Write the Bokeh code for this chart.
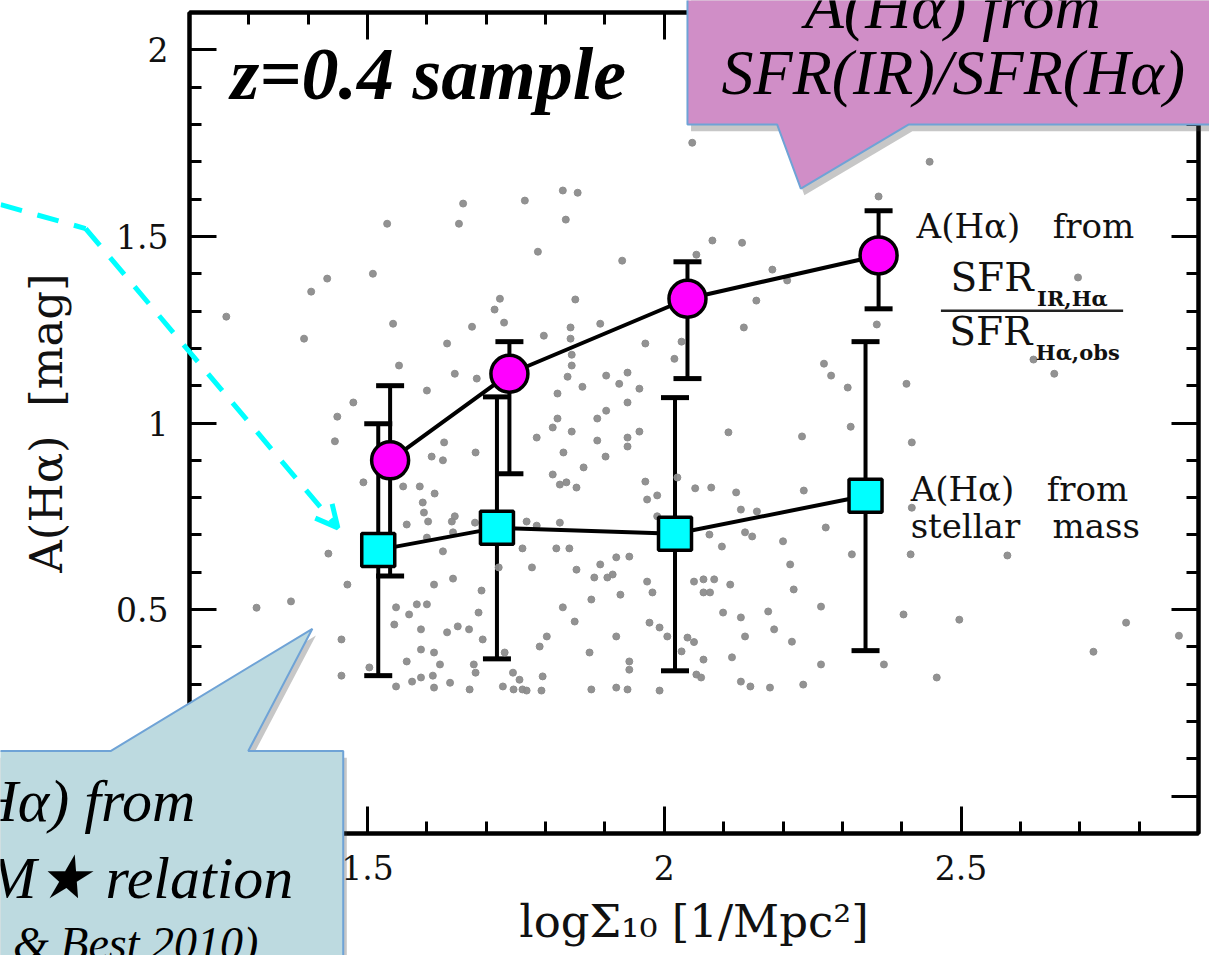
from bokeh.plotting import figure
from bokeh.models import (ColumnDataSource, Whisker, TeeHead, FixedTicker, LinearAxis,
                          Label, Arrow, OpenHead)
from bokeh.core.properties import value
from bokeh.embed import file_html
from bokeh.resources import INLINE

# ---------------- data ----------------
# A(Halpha) from SFR(IR)/SFR(Halpha)  (magenta circles)
dens_ir = [1.538, 1.739, 2.039, 2.361]
aha_ir = [0.900, 1.132, 1.333, 1.449]
aha_ir_lo = [0.590, 0.864, 1.119, 1.306]
aha_ir_hi = [1.100, 1.218, 1.432, 1.569]

# A(Halpha) from stellar mass (cyan squares)
dens_ms = [1.518, 1.718, 2.018, 2.339]
aha_ms = [0.660, 0.719, 0.703, 0.805]
aha_ms_lo = [0.323, 0.368, 0.336, 0.390]
aha_ms_hi = [0.998, 1.070, 1.068, 1.218]

# individual galaxies (grey dots)
bg_x = [1.262, 1.313, 1.371, 1.393, 1.405, 1.432, 1.434, 1.445, 1.449, 1.456,
        1.456, 1.466, 1.476, 1.493, 1.503, 1.509, 1.533, 1.543, 1.545, 1.548,
        1.548, 1.553, 1.560, 1.566, 1.566, 1.570, 1.575, 1.583, 1.588, 1.590,
        1.590, 1.590, 1.593, 1.595, 1.600, 1.600, 1.600, 1.602, 1.608, 1.610,
        1.612, 1.612, 1.612, 1.613, 1.622, 1.627, 1.627, 1.629, 1.634, 1.634,
        1.639, 1.642, 1.644, 1.644, 1.647, 1.647, 1.652, 1.654, 1.661, 1.671,
        1.672, 1.676, 1.679, 1.681, 1.682, 1.682, 1.684, 1.687, 1.692, 1.694,
        1.714, 1.721, 1.723, 1.728, 1.730, 1.731, 1.745, 1.746, 1.756, 1.761,
        1.761, 1.765, 1.768, 1.768, 1.777, 1.785, 1.785, 1.787, 1.790, 1.793,
        1.795, 1.797, 1.802, 1.812, 1.812, 1.818, 1.820, 1.820, 1.824, 1.824,
        1.829, 1.829, 1.830, 1.834, 1.835, 1.837, 1.840, 1.842, 1.842, 1.844,
        1.844, 1.844, 1.849, 1.850, 1.852, 1.852, 1.854, 1.862, 1.864, 1.874,
        1.877, 1.877, 1.882, 1.887, 1.887, 1.892, 1.892, 1.901, 1.902, 1.902,
        1.904, 1.913, 1.919, 1.919, 1.919, 1.924, 1.926, 1.929, 1.938, 1.938,
        1.938, 1.938, 1.938, 1.941, 1.941, 1.941, 1.958, 1.958, 1.968, 1.968,
        1.971, 1.971, 1.975, 1.980, 1.988, 1.988, 1.992, 1.992, 2.005, 2.017,
        2.022, 2.029, 2.029, 2.039, 2.047, 2.050, 2.050, 2.052, 2.054, 2.054,
        2.062, 2.066, 2.066, 2.066, 2.076, 2.077, 2.079, 2.081, 2.084, 2.097,
        2.099, 2.108, 2.111, 2.114, 2.121, 2.129, 2.129, 2.129, 2.131, 2.134,
        2.136, 2.136, 2.145, 2.148, 2.155, 2.156, 2.175, 2.178, 2.182, 2.185,
        2.200, 2.207, 2.212, 2.215, 2.218, 2.232, 2.234, 2.235, 2.264, 2.264,
        2.269, 2.272, 2.281, 2.309, 2.314, 2.316, 2.358, 2.361, 2.370, 2.403,
        2.408, 2.415, 2.417, 2.417, 2.447, 2.459, 2.497, 2.578, 2.622, 2.657,
        2.697, 2.723, 2.778, 2.867]
bg_y = [1.285, 0.505, 0.522, 1.226, 1.352, 1.387, 0.650, 0.951, 1.017, 0.420,
        0.323, 0.567, 1.055, 0.841, 0.345, 1.400, 1.534, 1.266, 0.460, 0.506,
        0.294, 1.154, 0.830, 0.728, 0.361, 0.487, 0.307, 0.514, 0.830, 0.447,
        0.393, 0.318, 0.787, 0.760, 1.087, 0.693, 0.514, 0.736, 0.910, 0.323,
        0.567, 0.385, 0.291, 0.811, 0.353, 0.900, 0.656, 0.948, 1.213, 0.439,
        0.304, 0.736, 0.707, 0.583, 1.132, 0.750, 0.455, 1.534, 1.588, 0.447,
        0.286, 1.258, 0.353, 0.733, 0.921, 0.331, 1.119, 0.492, 0.551, 0.420,
        1.304, 0.613, 1.333, 0.294, 1.269, 0.385, 0.331, 0.286, 0.312, 0.664,
        0.286, 1.596, 0.736, 0.283, 0.613, 0.961, 0.725, 1.459, 0.401, 0.283,
        0.321, 1.234, 0.428, 0.988, 0.862, 0.664, 1.079, 1.012, 0.835, 0.733,
        1.623, 0.506, 0.921, 1.545, 0.841, 1.124, 0.664, 1.256, 1.226, 1.183,
        1.154, 0.977, 0.468, 1.331, 0.827, 0.607, 1.617, 1.097, 0.881, 0.385,
        0.527, 0.286, 0.586, 1.012, 0.953, 1.266, 0.621, 0.910, 1.127, 1.033,
        0.586, 0.594, 0.640, 0.428, 0.291, 1.105, 0.540, 1.435, 1.135, 1.055,
        0.961, 0.937, 0.286, 0.642, 0.361, 0.339, 1.092, 0.977, 1.213, 0.843,
        0.795, 0.575, 0.465, 0.546, 0.806, 0.750, 0.452, 0.283, 0.428, 1.172,
        0.854, 1.218, 0.388, 0.425, 1.751, 0.575, 0.413, 0.825, 1.451, 0.326,
        0.318, 0.581, 0.546, 0.366, 0.701, 0.546, 0.827, 1.489, 0.581, 0.669,
        0.492, 0.975, 0.567, 0.372, 0.814, 0.768, 0.479, 0.307, 1.483, 1.256,
        0.707, 0.428, 0.294, 0.696, 1.328, 0.763, 0.495, 0.291, 1.411, 0.447,
        0.683, 1.382, 0.621, 0.414, 0.554, 0.964, 0.299, 0.819, 0.508, 0.353,
        1.159, 0.720, 1.127, 1.095, 0.990, 0.648, 1.264, 1.607, 0.353, 0.487,
        1.105, 0.648, 0.948, 0.773, 1.700, 0.318, 0.473, 0.645, 1.170, 1.132,
        1.390, 0.387, 0.465, 0.430]

x_major = [1.5, 2.0, 2.5]
x_labels = ["1.5", "2", "2.5"]
y_major = [0.0, 0.5, 1.0, 1.5, 2.0]
y_labels = ["0", "0.5", "1", "1.5", "2"]

# ---------------- layout constants ----------------
W, H = 1209, 955
BL, BR, BT, BB = 189, 11, 12, 122
XR = (1.2, 2.9)
YR = (-0.1, 2.1)

# ---------------- main figure ----------------
p = figure(width=W, height=H, x_range=XR, y_range=YR,
           output_backend="svg", toolbar_location=None,
           min_border_left=BL, min_border_right=BR, min_border_top=BT, min_border_bottom=BB)
p.grid.visible = False
p.outline_line_color = "black"
p.outline_line_width = 4
p.background_fill_color = "white"
p.border_fill_color = "white"

x_minor = [round(1.2 + 0.1 * i, 1) for i in range(18)]
y_minor = [round(-0.1 + 0.1 * i, 1) for i in range(23)]
xt = FixedTicker(ticks=x_major, minor_ticks=x_minor)
yt = FixedTicker(ticks=y_major, minor_ticks=y_minor)

bottom_ax = p.below[0]
left_ax = p.left[0]
bottom_ax.ticker = xt
left_ax.ticker = yt
top_ax = LinearAxis(ticker=xt)
right_ax = LinearAxis(ticker=yt)
p.add_layout(top_ax, "above")
p.add_layout(right_ax, "right")

for ax in [bottom_ax, left_ax, top_ax, right_ax]:
    ax.axis_line_width = 4
    ax.axis_line_color = "black"
    ax.major_tick_line_width = 3
    ax.minor_tick_line_width = 3
    ax.major_tick_in = 27
    ax.major_tick_out = 0
    ax.minor_tick_in = 12
    ax.minor_tick_out = 0
    ax.major_label_text_font = "DejaVu Serif"
    ax.major_label_text_font_size = "33px"
    ax.major_label_text_color = "#111111"
    ax.major_label_standoff = 21
    ax.axis_label_text_font = "DejaVu Serif"
    ax.axis_label_text_font_style = "normal"
    ax.axis_label_text_font_size = "45px"
    ax.axis_label_text_color = "#111111"

bottom_ax.major_label_overrides = dict(zip(x_major, x_labels))
left_ax.major_label_overrides = dict(zip(y_major, y_labels))
top_ax.major_label_overrides = {t: "" for t in x_major}
right_ax.major_label_overrides = {t: "" for t in y_major}
top_ax.major_label_standoff = 0
right_ax.major_label_standoff = 0

bottom_ax.axis_label = "logΣ\u2081\u2080\u00a0[1/Mpc\u00b2]"
bottom_ax.axis_label_standoff = 12
left_ax.axis_label = "A(Hα)\u00a0\u00a0[mag]"
left_ax.axis_label_standoff = 40

# grey galaxies
p.scatter(bg_x, bg_y, size=7, color="#8c8c8c", alpha=0.95)

# error bars
src_ir = ColumnDataSource(dict(x=dens_ir, y=aha_ir, lo=aha_ir_lo, hi=aha_ir_hi))
src_ms = ColumnDataSource(dict(x=dens_ms, y=aha_ms, lo=aha_ms_lo, hi=aha_ms_hi))
for src in (src_ms, src_ir):
    w = Whisker(base="x", lower="lo", upper="hi", source=src, line_width=4, line_color="black",
                upper_head=TeeHead(size=28, line_width=5, line_color="black"),
                lower_head=TeeHead(size=28, line_width=5, line_color="black"))
    p.add_layout(w)

p.line("x", "y", source=src_ir, line_width=4, line_color="black")
p.line("x", "y", source=src_ms, line_width=4, line_color="black")
p.scatter("x", "y", source=src_ir, marker="circle", size=37, fill_color="#ff00ff",
          line_color="black", line_width=3.5)
p.scatter("x", "y", source=src_ms, marker="square", size=33, fill_color="#00ffff",
          line_color="black", line_width=3.5)

# in-plot annotations (legend-like texts)
serif = "DejaVu Serif"
p.add_layout(Label(x=2.425, y=1.529, text="A(Hα)\u00a0\u00a0\u00a0from", text_font=serif,
                   text_font_size="34px", text_baseline="middle", text_color="#111111"))
p.add_layout(Label(x=2.482, y=1.390, text="SFR", text_font=serif,
                   text_font_size="39px", text_baseline="middle", text_color="#111111"))
p.add_layout(Label(x=2.628, y=1.334, text="IR,Hα", text_font=serif, text_font_style="bold",
                   text_font_size="21px", text_baseline="middle", text_color="#111111"))
p.line([2.466, 2.773], [1.301, 1.301], line_width=2.5, line_color="#222222")
p.add_layout(Label(x=2.480, y=1.245, text="SFR", text_font=serif,
                   text_font_size="39px", text_baseline="middle", text_color="#111111"))
p.add_layout(Label(x=2.626, y=1.189, text="Hα,obs", text_font=serif, text_font_style="bold",
                   text_font_size="21px", text_baseline="middle", text_color="#111111"))
p.add_layout(Label(x=2.415, y=0.824, text="A(Hα)\u00a0\u00a0\u00a0from", text_font=serif,
                   text_font_size="34px", text_baseline="middle", text_color="#111111"))
p.add_layout(Label(x=2.415, y=0.725, text="stellar\u00a0\u00a0\u00a0mass", text_font=serif,
                   text_font_size="34px", text_baseline="middle", text_color="#111111"))

p.add_layout(Label(x=1.269, y=1.936, text="z=0.4 sample", text_font="Liberation Serif",
                   text_font_style="bold italic", text_font_size="74px",
                   text_baseline="middle", text_color="black"))

# ---------------- overlay figure (slide call-outs), same data mapping, whole canvas ----------------
fw = W - BL - BR
fh = H - BT - BB
sx = fw / (XR[1] - XR[0])
sy = fh / (YR[1] - YR[0])
ov_xr = (XR[0] - BL / sx, XR[1] + BR / sx)
ov_yr = (YR[0] - BB / sy, YR[1] + BT / sy)

ov = figure(width=W, height=H, x_range=ov_xr, y_range=ov_yr, output_backend="svg",
            toolbar_location=None, x_axis_type=None, y_axis_type=None,
            min_border=0, min_border_left=0, min_border_right=0,
            min_border_top=0, min_border_bottom=0)
ov.grid.visible = False
ov.outline_line_color = None
ov.background_fill_alpha = 0
ov.border_fill_alpha = 0
ov.styles = {"position": "absolute", "top": "0px", "left": "0px", "z-index": "5"}

# cyan dashed arrow
ov.line([0.882, 1.025], [1.585, 1.521], line_color="#00ffff", line_width=5, line_dash="22 16")
ov.add_layout(Arrow(end=OpenHead(size=22, line_color="#00ffff", line_width=5),
                    x_start=1.025, y_start=1.521, x_end=1.450, y_end=0.719,
                    line_color="#00ffff", line_width=5, line_dash="22 16"))

# magenta call-out
mx = [2.039, 2.95, 2.95, 2.412, 2.230, 2.190, 2.039]
my = [2.18, 2.18, 1.800, 1.800, 1.628, 1.800, 1.800]
ov.patch([v + 0.006 for v in mx], [v - 0.018 for v in my], fill_color="#444444",
         fill_alpha=0.3, line_alpha=0)
ov.patch(mx, my, fill_color="#d08ec7", line_color="#6fa3d6", line_width=2)
ov.text(x=[2.486, 2.487], y=[2.116, 1.939], text=["A(Hα) from", "SFR(IR)/SFR(Hα)"],
        text_font=value("Liberation Serif"), text_font_style="italic", text_font_size="64px",
        text_align="center", text_baseline="middle", text_color="black")

# blue call-out
bx = [0.86, 1.067, 1.407, 1.299, 1.459, 1.459, 0.86]
by = [0.121, 0.121, 0.4485, 0.121, 0.121, -0.46, -0.46]
ov.patch([v + 0.006 for v in bx], [v - 0.018 for v in by], fill_color="#444444",
         fill_alpha=0.3, line_alpha=0)
ov.patch(bx, by, fill_color="#bddae0", line_color="#6fa3d6", line_width=2)
ov.text(x=[1.210, 1.375], y=[-0.012, -0.218], text=["A(Hα) from", "A(Hα)–M★ relation"],
        text_font=value("Liberation Serif"), text_font_style="italic", text_font_size="60px",
        text_align="right", text_baseline="middle", text_color="black")
ov.text(x=[1.316], y=[-0.395], text=["(Garn & Best 2010)"],
        text_font=value("Liberation Serif"), text_font_style="italic", text_font_size="46px",
        text_align="right", text_baseline="middle", text_color="black")

open("out.html", "w").write(file_html([p, ov], INLINE))
